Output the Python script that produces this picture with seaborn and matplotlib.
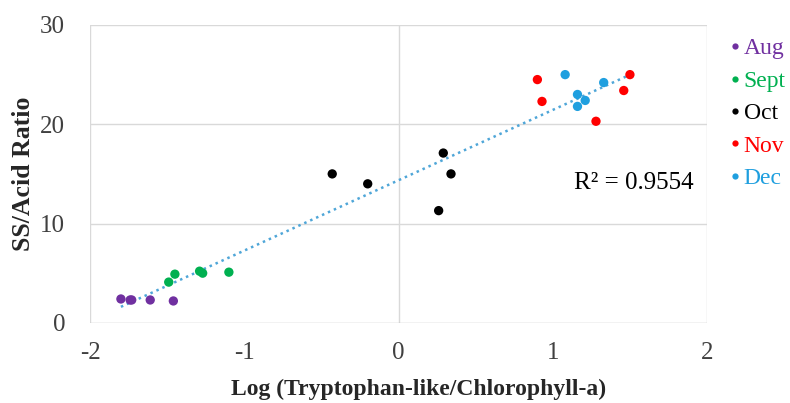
import numpy as np
import pandas as pd
import matplotlib
matplotlib.use("Agg")
import matplotlib.pyplot as plt
import seaborn as sns

# --- DATA ---
months = ["Aug", "Sept", "Oct", "Nov", "Dec"]
aug_x = [-1.80, -1.74, -1.73, -1.61, -1.46]
aug_y = [2.4, 2.3, 2.3, 2.3, 2.2]
sept_x = [-1.49, -1.45, -1.29, -1.27, -1.10]
sept_y = [4.1, 4.9, 5.2, 5.0, 5.1]
oct_x = [-0.43, -0.20, 0.26, 0.29, 0.34]
oct_y = [15.0, 14.0, 11.3, 17.1, 15.0]
nov_x = [0.90, 0.93, 1.28, 1.46, 1.50]
nov_y = [24.5, 22.3, 20.3, 23.4, 25.0]
dec_x = [1.08, 1.16, 1.16, 1.21, 1.33]
dec_y = [25.0, 23.0, 21.8, 22.4, 24.2]
r2_text = "R² = 0.9554"

colors = {"Aug": "#7030A0", "Sept": "#00B050", "Oct": "#000000",
          "Nov": "#FF0000", "Dec": "#1F9FDF"}

xs = [aug_x, sept_x, oct_x, nov_x, dec_x]
ys = [aug_y, sept_y, oct_y, nov_y, dec_y]
df = pd.DataFrame({
    "x": sum(xs, []),
    "y": sum(ys, []),
    "month": sum([[m] * len(v) for m, v in zip(months, xs)], []),
})

# --- PLOT ---
sns.set_style("white")
plt.rcParams["font.family"] = ["Liberation Serif", "DejaVu Serif"]

fig = plt.figure(figsize=(7.9, 4.03), dpi=100)
ax = fig.add_axes([0.114, 0.199, 0.781, 0.739])

sns.regplot(data=df, x="x", y="y", scatter=False, ci=None, truncate=True,
            ax=ax, line_kws={"color": "#4FA6D8", "linestyle": (0, (1, 1.6)),
                             "linewidth": 1.8})
sns.scatterplot(data=df, x="x", y="y", hue="month", hue_order=months,
                palette=colors, s=45, edgecolor="none", ax=ax, zorder=3)

ax.set_xlim(-2, 2)
ax.set_ylim(0, 30)
ax.set_xticks([-2, -1, 0, 1, 2])
ax.set_yticks([0, 10, 20, 30])
ax.set_xticklabels(["-2", "-1", "0", "1", "2"])
for v in [-2, 0, 2]:
    ax.axvline(v, color="#D9D9D9", linewidth=1, zorder=0)
for v in [10, 20, 30]:
    ax.axhline(v, color="#D9D9D9", linewidth=1, zorder=0)
ax.axhline(0, color="#BFBFBF", linewidth=1, zorder=1)
for s in ax.spines.values():
    s.set_visible(False)
ax.tick_params(axis="both", labelsize=18, colors="#404040", length=0)
ax.tick_params(axis="y", pad=18)
ax.tick_params(axis="x", pad=14)

ax.set_xlabel("Log (Tryptophan-like/Chlorophyll-a)", fontsize=17,
              fontweight="bold")
ax.xaxis.set_label_coords(0.532, -0.222, transform=ax.transAxes)
ax.xaxis.label.set_va("center")
ax.set_ylabel("SS/Acid Ratio", fontsize=18.5, fontweight="bold", labelpad=4)

ax.text(1.136, 14.1, r2_text, fontsize=18, va="center", ha="left",
        color="#000000")

handles, labels = ax.get_legend_handles_labels()
ax.get_legend().remove()
for h in handles:
    if hasattr(h, "set_markersize"):
        h.set_markersize(4.5)
    else:
        h.set_sizes([18])
fig.legend(handles, labels, loc="upper left", bbox_to_anchor=(0.922, 0.906),
           frameon=False, fontsize=17, labelcolor=[colors[m] for m in labels],
           handletextpad=0.1, labelspacing=0.46, handlelength=0.55,
           borderaxespad=0, borderpad=0)

plt.savefig("out.png", dpi=100)
